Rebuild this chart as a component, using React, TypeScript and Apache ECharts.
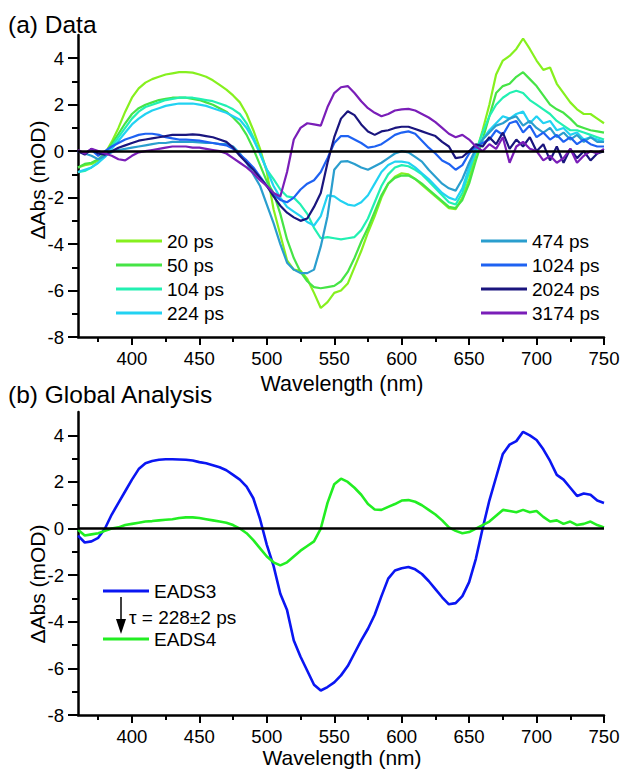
import React, { useEffect, useRef } from "react";
import * as echarts from "echarts";

const wavelengths = [
  360, 365, 370, 375, 380, 385, 390, 395, 400, 405,
  410, 415, 420, 425, 430, 435, 440, 445, 450, 455,
  460, 465, 470, 475, 480, 485, 490, 495, 500, 505,
  510, 515, 520, 525, 530, 535, 540, 545, 550, 555,
  560, 565, 570, 575, 580, 585, 590, 595, 600, 605,
  610, 615, 620, 625, 630, 635, 640, 645, 650, 655,
  660, 665, 670, 675, 680, 685, 690, 695, 700, 705,
  710, 715, 720, 725, 730, 735, 740, 745, 750,
];

const ps20 = [
  -0.7, -0.6, -0.55, -0.4, -0.1, 0.4, 1.0, 1.7, 2.3, 2.7,
  2.95, 3.1, 3.2, 3.3, 3.35, 3.4, 3.4, 3.38, 3.3, 3.2,
  3.05, 2.85, 2.65, 2.4, 2.1, 1.6, 0.9, 0.1, -0.9, -2.5,
  -3.6, -4.7, -5.1, -5.15, -5.5, -6.1, -6.75, -6.5, -6.1, -6.0,
  -5.7, -5.0, -4.3, -3.5, -2.8, -2.0, -1.4, -1.1, -0.95, -1.0,
  -1.2, -1.45, -1.7, -1.95, -2.2, -2.45, -2.5, -2.0, -1.2, -0.1,
  0.9, 2.0, 3.3, 3.9, 4.1, 4.4, 4.85, 4.4, 3.9, 3.5,
  3.6, 2.9, 2.5, 2.1, 1.8, 1.6, 1.6, 1.4, 1.2,
];

const ps50 = [
  -0.7, -0.55, -0.5, -0.35, -0.1, 0.3, 0.75, 1.2, 1.6, 1.85,
  2.0, 2.1, 2.2, 2.25, 2.3, 2.3, 2.3, 2.25, 2.2, 2.1,
  2.0, 1.85, 1.7, 1.45, 1.15, 0.7, 0.1, -0.6, -1.3, -1.8,
  -2.7, -3.8, -4.6, -5.2, -5.6, -5.85, -5.9, -5.85, -5.8, -5.6,
  -5.2, -4.6, -3.9, -3.3, -2.6, -1.9, -1.4, -1.15, -1.05, -1.05,
  -1.2, -1.4, -1.65, -1.9, -2.15, -2.4, -2.45, -2.1, -1.4, -0.4,
  0.5, 1.5, 2.5, 2.8, 2.9, 3.2, 3.4, 3.1, 2.8, 2.4,
  2.0, 1.8, 1.65, 1.4, 1.1, 1.0, 0.9, 0.85, 0.8,
];

const ps104 = [
  -0.9, -0.85, -0.7, -0.5, -0.2, 0.2, 0.6, 1.0, 1.4, 1.7,
  1.9, 2.0, 2.1, 2.2, 2.25, 2.3, 2.3, 2.3, 2.25, 2.2,
  2.15, 2.05, 1.95, 1.8, 1.6, 1.2, 0.6, -0.1, -0.8, -1.2,
  -1.65, -1.95, -2.0, -2.3, -2.7, -3.3, -3.75, -3.7, -3.75, -3.8,
  -3.75, -3.7, -3.4, -2.9, -2.2, -1.5, -1.0, -0.7, -0.6, -0.65,
  -0.8, -1.0, -1.3, -1.6, -1.9, -2.2, -2.3, -1.8, -0.9, 0.0,
  0.8, 1.5, 2.0, 2.3, 2.5, 2.6, 2.5, 2.2, 2.0, 1.8,
  1.6, 1.3, 1.1, 0.9, 0.9, 0.8, 0.7, 0.6, 0.5,
];

const ps224 = [
  -0.9, -0.8, -0.7, -0.5, -0.25, 0.1, 0.45, 0.8, 1.15, 1.4,
  1.6, 1.75, 1.85, 1.95, 2.0, 2.05, 2.05, 2.05, 2.0, 1.95,
  1.85, 1.75, 1.65, 1.5, 1.35, 1.0, 0.5, -0.1, -0.8, -1.5,
  -2.0, -2.4, -2.6, -2.8, -3.05, -3.2, -2.8, -1.9, -1.95, -2.15,
  -2.3, -2.35, -2.2, -1.9, -1.4, -0.9, -0.6, -0.45, -0.45, -0.5,
  -0.7, -0.95, -1.2, -1.5, -1.8, -2.0, -2.1, -1.6, -0.7, 0.0,
  0.5, 0.9, 1.2, 1.5, 1.4, 1.6, 1.7, 1.2, 1.5, 1.2,
  1.3, 0.9, 1.0, 0.7, 0.8, 0.5, 0.6, 0.5, 0.4,
];

const ps474 = [
  0.0, -0.1, -0.2, -0.35, -0.2, -0.05, 0.05, 0.1, 0.15, 0.2,
  0.25, 0.3, 0.35, 0.35, 0.4, 0.4, 0.4, 0.4, 0.38, 0.35,
  0.35, 0.3, 0.3, 0.2, -0.1, -0.5, -1.0, -1.5, -2.3, -3.1,
  -4.0, -4.8, -5.1, -5.25, -5.25, -5.1, -4.1, -2.8, -0.8, -0.45,
  -0.43, -0.55, -0.7, -0.8, -0.65, -0.5, -0.3, -0.1, 0.0, -0.05,
  -0.25, -0.45, -0.8, -1.1, -1.4, -1.6, -1.7, -1.2, -0.5, 0.1,
  0.5, 0.8, 1.1, 1.2, 1.4, 1.5, 1.1, 1.3, 1.0, 0.8,
  1.0, 0.6, 0.8, 0.5, 0.7, 0.4, 0.6, 0.4, 0.4,
];

const ps1024 = [
  0.0, -0.1, 0.05, -0.2, 0.0, 0.2, 0.35, 0.5, 0.6, 0.7,
  0.75, 0.75, 0.7, 0.6, 0.55, 0.5, 0.5, 0.48, 0.45, 0.4,
  0.35, 0.3, 0.25, 0.1, -0.15, -0.4, -0.7, -1.1, -1.5, -1.85,
  -2.1, -2.2, -2.0, -1.65, -1.4, -1.25, -0.9, -0.3, 0.35, 0.65,
  0.65, 0.5, 0.35, 0.15, 0.2, 0.3, 0.5, 0.7, 0.8, 0.85,
  0.75, 0.45, 0.15, -0.1, -0.4, -0.55, -0.8, -0.6, -0.1, 0.2,
  0.35, 0.5, 0.9, 0.7, 1.2, 1.3, 0.8, 1.1, 0.6, 0.8,
  0.5, 0.7, 0.4, 0.6, 0.3, 0.5, 0.3, 0.2, 0.2,
];

const ps2024 = [
  0.0, -0.15, 0.1, -0.1, -0.15, 0.0, 0.15, 0.25, 0.35, 0.45,
  0.5, 0.55, 0.6, 0.65, 0.7, 0.7, 0.7, 0.72, 0.7, 0.65,
  0.6, 0.5, 0.4, 0.15, -0.2, -0.5, -0.8, -1.15, -1.5, -1.95,
  -2.35, -2.65, -2.85, -3.0, -2.9, -2.4, -1.8, -0.5, 0.6, 1.4,
  1.72, 1.55, 1.15, 0.85, 0.7, 0.85, 0.9, 1.0, 1.05, 1.05,
  0.95, 0.85, 0.75, 0.65, 0.4, 0.2, -0.3, -0.25, 0.0, 0.3,
  0.2, 0.6, 0.3, 0.8, 0.1, 0.5, 0.2, 0.6, 0.0, 0.3,
  -0.4, 0.2, -0.5, 0.1, -0.3, 0.0, -0.4, -0.1, 0.0,
];

const ps3174 = [
  0.05, -0.1, 0.1, 0.0, -0.1, -0.2, -0.35, -0.4, -0.2, -0.05,
  0.0, 0.05, 0.1, 0.15, 0.2, 0.2, 0.2, 0.15, 0.15, 0.1,
  0.05, 0.0, -0.1, -0.3, -0.5, -0.7, -0.95, -1.25, -1.5, -1.8,
  -1.95, -0.9, 0.5, 1.0, 1.2, 1.15, 1.1, 1.9, 2.5, 2.75,
  2.8, 2.5, 2.15, 1.85, 1.65, 1.5, 1.6, 1.75, 1.8, 1.82,
  1.75, 1.6, 1.45, 1.25, 1.0, 0.75, 0.6, 0.7, 0.5, 0.2,
  0.0, 0.3, 0.1, 0.6, -0.5, 0.2, 0.4, 0.1, 0.0, -0.4,
  -0.2, -0.5, -0.3, 0.1, -0.5, -0.2, 0.0, -0.1, 0.1,
];

const eads3 = [
  -0.3, -0.6, -0.55, -0.4, 0.0, 0.6, 1.1, 1.6, 2.1, 2.55,
  2.8, 2.9, 2.95, 2.97, 2.97, 2.96, 2.95, 2.92, 2.85, 2.8,
  2.72, 2.63, 2.5, 2.3, 2.1, 1.8, 1.3, 0.4, -0.7, -1.6,
  -2.8, -3.5, -4.8, -5.5, -6.1, -6.7, -6.95, -6.8, -6.6, -6.3,
  -5.9, -5.35, -4.8, -4.3, -3.7, -2.9, -2.15, -1.8, -1.7, -1.65,
  -1.75, -1.95, -2.25, -2.6, -2.95, -3.25, -3.2, -2.9, -2.3, -1.3,
  0.0, 1.2, 2.2, 3.2, 3.6, 3.75, 4.15, 4.0, 3.8, 3.4,
  2.9, 2.3, 2.1, 1.75, 1.4, 1.5, 1.45, 1.2, 1.1,
];

const eads4 = [
  -0.05, -0.3, -0.25, -0.2, -0.1, 0.0, 0.05, 0.15, 0.2, 0.25,
  0.3, 0.32, 0.35, 0.38, 0.4, 0.45, 0.48, 0.48, 0.45, 0.4,
  0.35, 0.3, 0.25, 0.15, 0.0, -0.2, -0.5, -0.85, -1.2, -1.45,
  -1.58, -1.45, -1.2, -0.95, -0.75, -0.55, 0.0, 1.1, 1.9, 2.14,
  2.0, 1.75, 1.45, 1.05, 0.82, 0.8, 0.93, 1.05, 1.2, 1.22,
  1.15, 1.0, 0.8, 0.6, 0.35, 0.05, -0.1, -0.2, -0.15, 0.0,
  0.15, 0.3, 0.55, 0.8, 0.75, 0.7, 0.8, 0.7, 0.75, 0.5,
  0.3, 0.35, 0.2, 0.3, 0.15, 0.2, 0.3, 0.15, 0.05,
];

const dataNames = ["20 ps", "50 ps", "104 ps", "224 ps", "474 ps", "1024 ps", "2024 ps", "3174 ps"];
const dataValues = [ps20, ps50, ps104, ps224, ps474, ps1024, ps2024, ps3174];
const dataColors = ["#86F01E", "#46E446", "#22F0B2", "#22D2F2", "#2A9ECE", "#1E62F2", "#1A157E", "#7A1EB8"];

const eadsNames = ["EADS3", "EADS4"];
const eadsValues = [eads3, eads4];
const eadsColors = ["#0A16F2", "#22EE22"];

const xTickValues = [400, 450, 500, 550, 600, 650, 700, 750];
const xMinorTickValues = [375, 425, 475, 525, 575, 625, 675, 725];
const yTickValues = [-8, -6, -4, -2, 0, 2, 4];
const yMinorTickValues = [-7, -5, -3, -1, 1, 3];

const titleA = "(a) Data";
const titleB = "(b) Global Analysis";
const xTitle = "Wavelength (nm)";
const yTitle = "ΔAbs (mOD)";
const tauText = "τ = 228±2 ps";

const FONT = '"Liberation Sans", Arial, Helvetica, sans-serif';
const X_MIN = 360;
const X_MAX = 750;
const Y_MIN = -8;
const Y_MAX = 5;

export default function App() {
  const ref = useRef<HTMLDivElement>(null);

  useEffect(() => {
    if (!ref.current) return;
    const chart = echarts.init(ref.current, undefined, { renderer: "svg" });

    const black = "#000";
    const mainX = (gridIndex: number) => ({
      type: "value", gridIndex, min: X_MIN, max: X_MAX, position: "bottom",
      axisLine: { show: true, onZero: false, lineStyle: { color: black, width: 2.5 } },
      axisTick: { show: true, inside: false, length: 8, customValues: xTickValues, lineStyle: { color: black, width: 2 } },
      axisLabel: { show: true, customValues: xTickValues, color: black, fontSize: 18.6, fontFamily: FONT, margin: 12 },
      splitLine: { show: false },
    });
    const minorX = (gridIndex: number) => ({
      type: "value", gridIndex, min: X_MIN, max: X_MAX, position: "bottom",
      axisLine: { show: false, onZero: false },
      axisTick: { show: true, inside: false, length: 5, customValues: xMinorTickValues, lineStyle: { color: black, width: 2 } },
      axisLabel: { show: false },
      splitLine: { show: false },
    });
    const mainY = (gridIndex: number) => ({
      type: "value", gridIndex, min: Y_MIN, max: Y_MAX, position: "left",
      axisLine: { show: true, onZero: false, lineStyle: { color: black, width: 2.5 } },
      axisTick: { show: true, inside: false, length: 10, customValues: yTickValues, lineStyle: { color: black, width: 2 } },
      axisLabel: { show: true, customValues: yTickValues, color: black, fontSize: 18.6, fontFamily: FONT, margin: 14 },
      splitLine: { show: false },
    });
    const minorY = (gridIndex: number) => ({
      type: "value", gridIndex, min: Y_MIN, max: Y_MAX, position: "left",
      axisLine: { show: false, onZero: false },
      axisTick: { show: true, inside: false, length: 6, customValues: yMinorTickValues, lineStyle: { color: black, width: 2 } },
      axisLabel: { show: false },
      splitLine: { show: false },
    });

    const zeroMark = {
      silent: true,
      symbol: ["none", "none"],
      label: { show: false },
      lineStyle: { color: black, width: 2.5, type: "solid" },
      data: [{ yAxis: 0 }],
    };

    const mkSeries = (name: string, values: number[], color: string, axisIdx: number, width: number, withZero: boolean) => ({
      type: "line",
      name,
      xAxisIndex: axisIdx,
      yAxisIndex: axisIdx,
      data: wavelengths.map((w, i) => [w, values[i]]),
      showSymbol: false,
      symbol: "none",
      silent: true,
      lineStyle: { color, width },
      itemStyle: { color },
      markLine: withZero ? zeroMark : undefined,
    });

    const series: any[] = [];
    dataNames.forEach((n, i) => series.push(mkSeries(n, dataValues[i], dataColors[i], 0, 2.2, i === dataNames.length - 1)));
    eadsNames.forEach((n, i) => series.push(mkSeries(n, eadsValues[i], eadsColors[i], 2, 2.6, i === eadsNames.length - 1)));

    const txt = (text: string, x: number, y: number, size: number, align = "left", rotation = 0) => ({
      type: "text", x, y, rotation, silent: true,
      style: { text, fill: black, font: `${size}px ${FONT}`, textAlign: align, textVerticalAlign: "middle" },
    });
    const seg = (x1: number, y1: number, x2: number, y2: number, color: string, w: number) => ({
      type: "line", silent: true,
      shape: { x1, y1, x2, y2 },
      style: { stroke: color, lineWidth: w },
    });

    const graphics: any[] = [];
    graphics.push(txt(titleA, 8, 24, 24.5));
    graphics.push(txt(titleB, 8, 394, 24.5));
    graphics.push(txt(xTitle, 342, 384, 21.5, "center"));
    graphics.push(txt(xTitle, 342, 757, 21, "center"));
    graphics.push(txt(yTitle, 37, 180, 21, "center", Math.PI / 2));
    graphics.push(txt(yTitle, 37, 584, 21, "center", Math.PI / 2));

    const rowY = [241, 265, 289, 313];
    dataNames.forEach((n, i) => {
      const col = i < 4 ? 0 : 1;
      const y = rowY[i % 4];
      const lx = col === 0 ? 116 : 481;
      graphics.push(seg(lx, y, lx + 46, y, dataColors[i], 3));
      graphics.push(txt(n, lx + 51, y, 19));
    });

    const eadsY = [591, 639];
    eadsNames.forEach((n, i) => {
      graphics.push(seg(103, eadsY[i], 149, eadsY[i], eadsColors[i], 3));
      graphics.push(txt(n, 154, eadsY[i], 19));
    });
    graphics.push(seg(121, 597, 121, 622, black, 1.5));
    graphics.push({
      type: "polygon", silent: true,
      shape: { points: [[116, 619], [126, 619], [121, 634]] },
      style: { fill: black },
    });
    graphics.push(txt(tauText, 129, 617, 19));

    chart.setOption({
      animation: false,
      backgroundColor: "#fff",
      grid: [
        { left: 78, top: 35, width: 526, height: 302, outerBoundsMode: "none", containLabel: false },
        { left: 78, top: 412, width: 526, height: 303, outerBoundsMode: "none", containLabel: false },
      ],
      xAxis: [mainX(0), minorX(0), mainX(1), minorX(1)],
      yAxis: [mainY(0), minorY(0), mainY(1), minorY(1)],
      series,
      graphic: graphics,
    });

    return () => chart.dispose();
  }, []);

  return (
    <div
      ref={ref}
      style={{ position: "fixed", left: 0, top: 0, width: 623, height: 769, background: "#fff" }}
    />
  );
}
